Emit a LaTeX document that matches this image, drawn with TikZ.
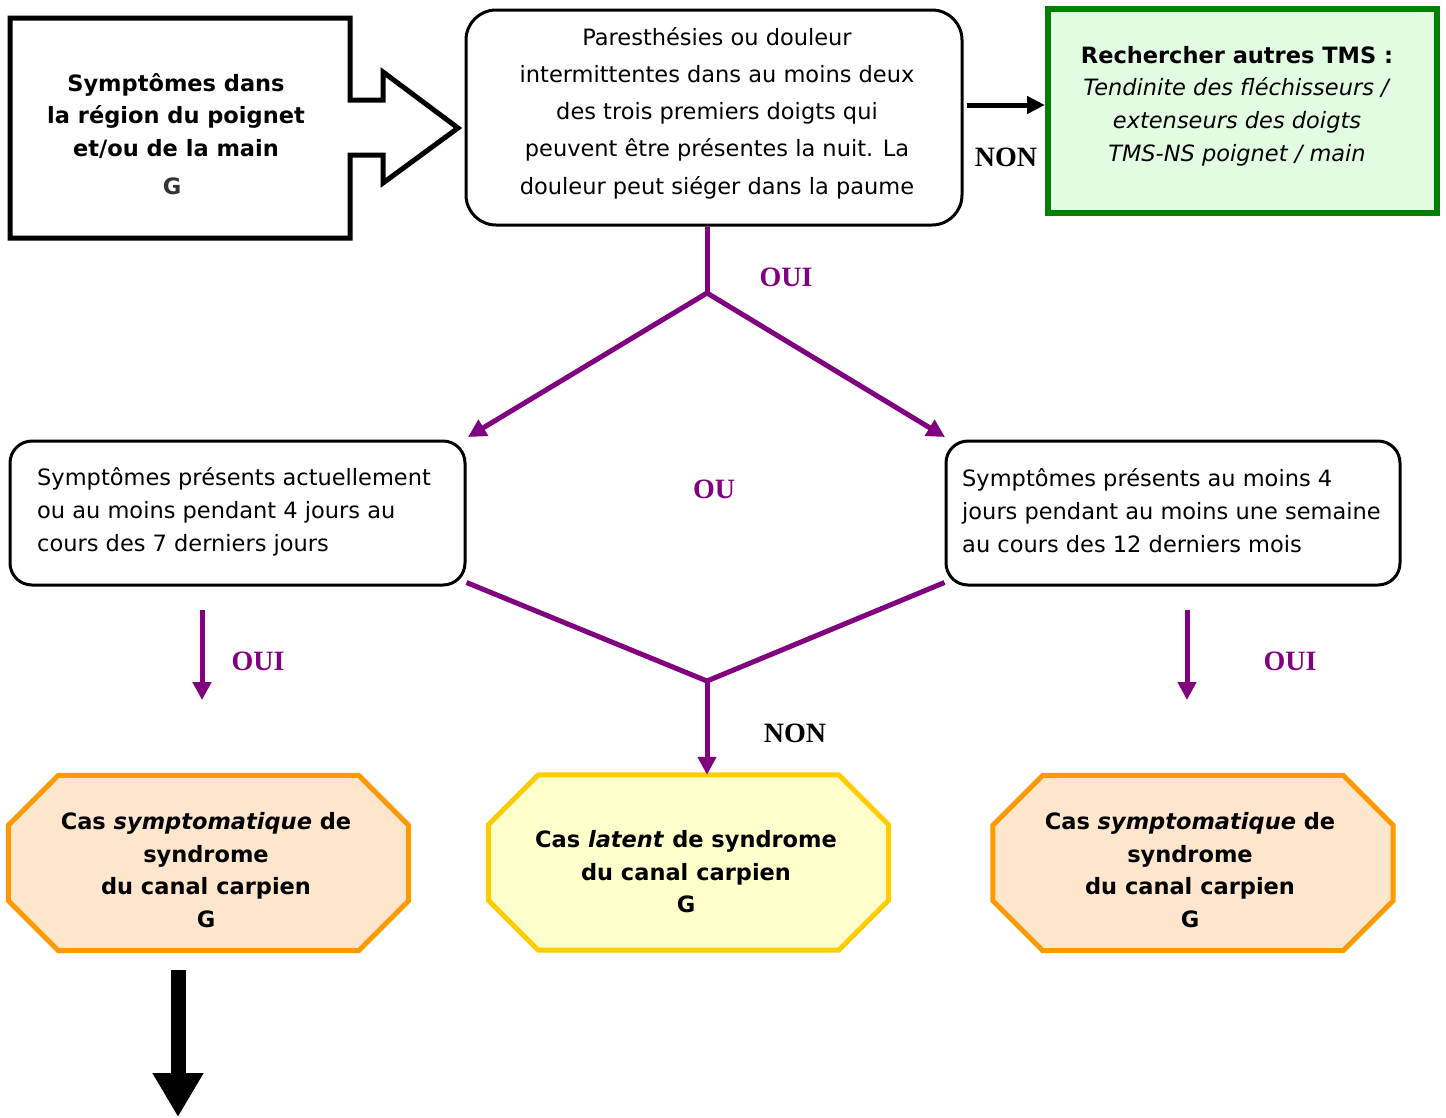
\documentclass[tikz,border=0pt]{standalone}
\usepackage{fontspec}
\setmainfont{DejaVu Sans}
\newfontfamily\lblfont{Liberation Serif}
\usetikzlibrary{arrows.meta,backgrounds}
\definecolor{purp}{HTML}{800080}
\definecolor{grn}{HTML}{008000}
\definecolor{grnfill}{HTML}{E2FCE2}
\definecolor{org}{HTML}{FF9900}
\definecolor{orgfill}{HTML}{FEE6CC}
\definecolor{yel}{HTML}{FFCC00}
\definecolor{yelfill}{HTML}{FFFFCC}
\newcommand\octpath[2]{%
  \draw[#2] ([xshift=50pt]#1.north west) -- ([xshift=-50pt]#1.north east)
    -- ([yshift=-50pt]#1.north east) -- ([yshift=50pt]#1.south east)
    -- ([xshift=-50pt]#1.south east) -- ([xshift=50pt]#1.south west)
    -- ([yshift=50pt]#1.south west) -- ([yshift=-50pt]#1.north west) -- cycle;}
\begin{document}
\begin{tikzpicture}[x=1pt,y=-1pt,
  txt/.style={font=\fontsize{22.5}{33}\selectfont, align=center, inner sep=0pt},
  btxt/.style={font=\bfseries\fontsize{22.5}{32.5}\selectfont, align=center, inner sep=0pt},
  lbl/.style={font=\lblfont\bfseries\fontsize{28}{30}\selectfont, inner sep=0pt},
  rbox/.style={draw, line width=3pt, fill=white, inner sep=0pt},
  octbox/.style={inner sep=0pt, minimum width=400pt, minimum height=175pt},
  pconn/.style={draw=purp, line width=5pt},
  parrow/.style={pconn, -{Triangle[length=18pt,width=18pt]}},
]
\useasboundingbox (0,0) rectangle (1446,1117);

% top-left block arrow
\draw[line width=5pt, miter limit=10] (10,18) -- (350,18) -- (350,100) -- (383,100) -- (383,72)
  -- (458,128) -- (383,183) -- (383,155) -- (350,155) -- (350,238) -- (10,238) -- cycle;
\node[btxt] (sympt) at (176,116) {Symptômes dans\\la région du poignet\\et/ou de la main};
\node[btxt, text=black!80] (symptG) at (172,186) {G};

% top centre box
\node[rbox, rounded corners=30pt, minimum width=496pt, minimum height=215pt] (q) at (714,117.5) {};
\node[txt, font=\fontsize{22.5}{37.3}\selectfont] (qtext) at (717,113) {Paresthésies ou douleur\\intermittentes dans au moins deux\\des trois premiers doigts qui\\peuvent être présentes la nuit. La\\douleur peut siéger dans la paume};

% green box
\node[draw=grn, fill=grnfill, line width=6pt, minimum width=389pt, minimum height=204pt, inner sep=0pt] (tms) at (1242.5,111) {};
\node[txt, font=\fontsize{22.5}{32.7}\selectfont] (tmstext) at (1237,106) {\textbf{Rechercher autres TMS :}\\\textit{Tendinite des fléchisseurs /}\\\textit{extenseurs des doigts}\\\textit{TMS-NS poignet / main}};

\coordinate (nonY) at (0,105);
\draw[line width=5pt, -{Triangle[length=18pt,width=17pt]}] ([xshift=3pt]q.east |- nonY) -- (tms.west |- nonY);
\node[lbl] (non1) at (1006,157) {NON};

% middle boxes
\node[rbox, rounded corners=22pt, minimum width=455pt, minimum height=144pt] (mL) at (237.5,513) {};
\node[txt, align=left, anchor=west] (mLtext) at (37,512) {Symptômes présents actuellement\\ou au moins pendant 4 jours au\\cours des 7 derniers jours};
\node[rbox, rounded corners=22pt, minimum width=454pt, minimum height=144pt] (mR) at (1173,513) {};
\node[txt, align=left, anchor=west] (mRtext) at (962,511) {Symptômes présents au moins 4\\jours pendant au moins une semaine\\au cours des 12 derniers mois};

% split connectors
\coordinate (sp1) at (707,293);
\coordinate (tL) at (468,437);
\coordinate (tR) at (945,437);
\draw[pconn] (sp1 |- q.south) -- (sp1);
\draw[parrow] (sp1) -- (tL);
\draw[parrow] (sp1) -- (tR);
\node[lbl, text=purp] (oui1) at (786,277) {OUI};
\node[lbl, text=purp] (ou) at (714,489) {OU};

% octagons
\node[octbox] (oL) at (208.5,863) {};
\node[octbox] (oM) at (688.5,862.5) {};
\node[octbox] (oR) at (1193,863) {};
\octpath{oL}{draw=org, fill=orgfill, line width=5pt}
\octpath{oM}{draw=yel, fill=yelfill, line width=5pt}
\octpath{oR}{draw=org, fill=orgfill, line width=5pt}
\node[btxt] (oLtext) at (206,870) {Cas \textit{symptomatique} de\\syndrome\\du canal carpien\\G};
\node[btxt] (oMtext) at (686,872) {Cas \textit{latent} de syndrome\\du canal carpien\\G};
\node[btxt] (oRtext) at (1190,870) {Cas \textit{symptomatique} de\\syndrome\\du canal carpien\\G};

% merge connectors
\coordinate (sp2) at (707,681);
\draw[pconn] ([yshift=4pt]mL.south east) -- (sp2) -- ([yshift=4pt]mR.south west);
\draw[parrow] (sp2) -- (sp2 |- oM.north);
\node[lbl] (non2) at (795,733) {NON};

% side OUI arrows
\coordinate (aL1) at (202,610);
\coordinate (aL2) at (202,700);
\coordinate (aR1) at (1187,610);
\coordinate (aR2) at (1187,700);
\draw[parrow] (aL1) -- (aL2);
\draw[parrow] (aR1) -- (aR2);
\node[lbl, text=purp] (oui2) at (258,661) {OUI};
\node[lbl, text=purp] (oui3) at (1290,661) {OUI};

% big black arrow
\coordinate (b1) at (178,970);
\coordinate (b2) at (178,1117);
\draw[line width=15pt, -{Triangle[length=44pt,width=48pt]}] (b1) -- (b2);
\end{tikzpicture}
\end{document}
